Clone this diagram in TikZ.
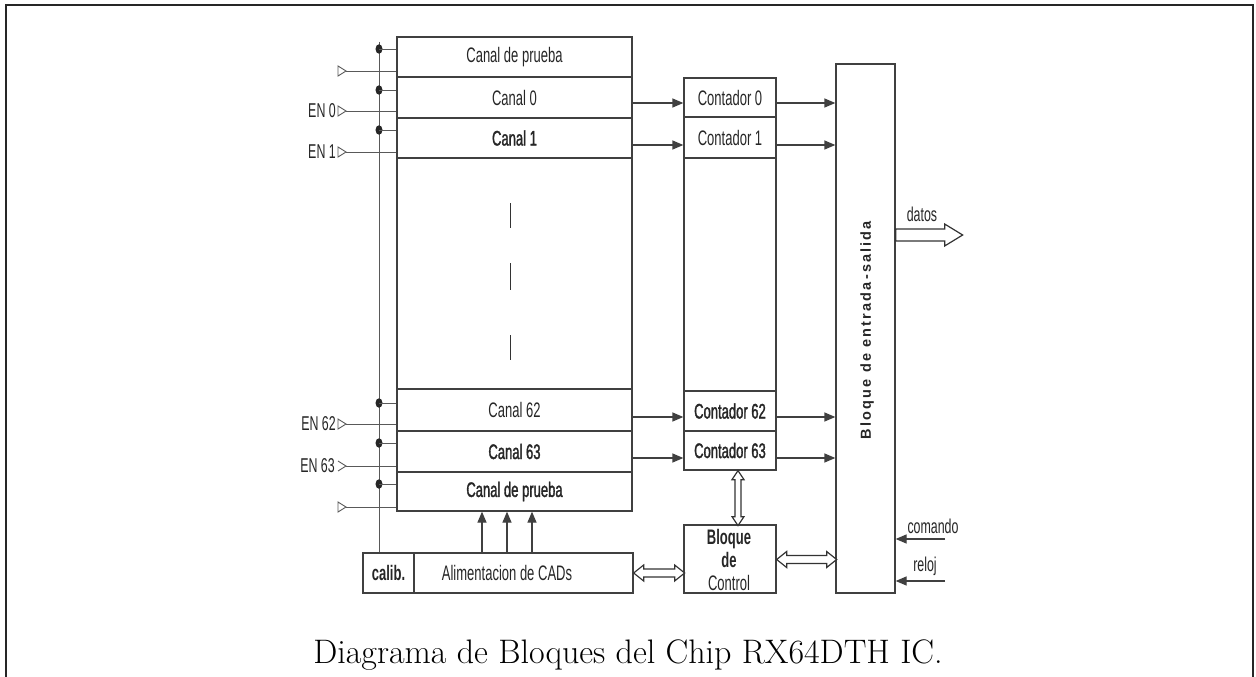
\documentclass[tikz,border=0pt]{standalone}
\usepackage{fontspec}
\newfontfamily\cond[FakeStretch=0.62]{Liberation Sans}
\newfontfamily\condb[FakeStretch=0.62,FakeBold=1.5]{Liberation Sans}
\newfontfamily\iofont[LetterSpace=15]{Liberation Sans}
\usetikzlibrary{arrows.meta,calc,shapes.geometric}
\begin{document}
\begin{tikzpicture}[x=1pt,y=-1pt,
  box/.style={draw=black!75, line width=1.3pt, rectangle, inner sep=0pt,
    font=\cond\fontsize{21}{22}\selectfont, text=black!85},
  lbl/.style={inner sep=0pt, font=\cond\fontsize{20}{21}\selectfont, text=black!85},
  ln/.style={draw=black!75, line width=1.3pt},
  thin/.style={draw=black!65, line width=0.9pt},
  arr/.style={ln, -{Triangle[length=11pt,width=9pt]}},
  dot/.style={ellipse, fill=black!85, inner sep=0pt, minimum width=7pt, minimum height=9.5pt},
  hollow/.style={draw=black!80, line width=1.2pt, fill=white, line join=miter},
  bar/.style={draw=black!80, line width=1.8pt}]
\useasboundingbox (0,0) rectangle (1256,677);
% outer frame
\draw[line width=1.5pt, black!85] (6,680) -- (6,5) -- (1253,5) -- (1253,680);

% left column of channels
\node[box, minimum width=235pt, minimum height=40pt] (p1) at (514.5,57) {Canal de prueba};
\node[box, minimum width=235pt, minimum height=41pt] (c0) at (514.5,97.5) {Canal 0};
\node[box, minimum width=235pt, minimum height=40pt] (c1) at (514.5,138) {\condb Canal 1};
\node[box, minimum width=235pt, minimum height=231pt] (mid) at (514.5,273.5) {};
\node[box, minimum width=235pt, minimum height=42pt] (c62) at (514.5,410) {Canal 62};
\node[box, minimum width=235pt, minimum height=41pt] (c63) at (514.5,451.5) {\condb Canal 63};
\node[box, minimum width=235pt, minimum height=39pt] (p2) at (514.5,491.5) {\condb Canal de prueba};
% dashes in the middle
\draw[bar] ([shift={(-4,-70.5)}]mid.center) -- ([shift={(-4,-45.5)}]mid.center);
\draw[bar] ([shift={(-4,-10.5)}]mid.center) -- ([shift={(-4,16.5)}]mid.center);
\draw[bar] ([shift={(-4,61.5)}]mid.center) -- ([shift={(-4,86.5)}]mid.center);

% counters
\node[box, minimum width=92pt, minimum height=39pt] (k0) at (730,97.5) {Contador 0};
\node[box, minimum width=92pt, minimum height=41pt] (k1) at (730,137.5) {Contador 1};
\node[box, minimum width=92pt, minimum height=233pt] (kmid) at (730,274.5) {};
\node[box, minimum width=92pt, minimum height=40pt] (k62) at (730,411) {\condb Contador 62};
\node[box, minimum width=92pt, minimum height=39pt] (k63) at (730,450.5) {\condb Contador 63};

% control block
\node[box, minimum width=92pt, minimum height=68pt] (ctrl) at (730,559) {};
\node[inner sep=0pt, align=center, text=black!85,
  font=\cond\fontsize{21}{23}\selectfont] (ctrltxt) at (729,560) {\bfseries Bloque\\\bfseries de\\Control};

% I/O block
\node[box, minimum width=59pt, minimum height=529pt] (io) at (865.5,328.5) {};
\node[rotate=90, inner sep=0pt, text=black!85,
  font=\iofont\bfseries\fontsize{14.5}{16}\selectfont] (iotxt) at (867,330) {Bloque de entrada-salida};

% calibration / ADC supply
\node[box, minimum width=51pt, minimum height=40pt] (calib) at (388.5,573) {\bfseries calib.};
\node[box, minimum width=219pt, minimum height=40pt] (alim) at (523.5,573) {};
\node[lbl, font=\cond\fontsize{21}{22}\selectfont] (alimtxt) at (507,573) {Alimentacion de CADs};

% arrows channel -> counter
\draw[arr] ([yshift=-5.5pt]c0.east) -- ([yshift=-5.5pt]c0.east -| k0.west);
\draw[arr] ([yshift=-7pt]c1.east) -- ([yshift=-7pt]c1.east -| k1.west);
\draw[arr] ([yshift=-7pt]c62.east) -- ([yshift=-7pt]c62.east -| k62.west);
\draw[arr] ([yshift=-6.5pt]c63.east) -- ([yshift=-6.5pt]c63.east -| k63.west);
% arrows counter -> I/O
\draw[arr] ([yshift=-5.5pt]k0.east) -- ([yshift=-5.5pt]k0.east -| io.west);
\draw[arr] ([yshift=-7.5pt]k1.east) -- ([yshift=-7.5pt]k1.east -| io.west);
\draw[arr] ([yshift=-6pt]k62.east) -- ([yshift=-6pt]k62.east -| io.west);
\draw[arr] ([yshift=-7.5pt]k63.east) -- ([yshift=-7.5pt]k63.east -| io.west);

% arrows supply -> bottom test channel
\draw[arr] ([xshift=-41.5pt]alim.north) -- ([xshift=-41.5pt]alim.north |- p2.south);
\draw[arr] ([xshift=-16.5pt]alim.north) -- ([xshift=-16.5pt]alim.north |- p2.south);
\draw[arr] ([xshift=8.5pt]alim.north) -- ([xshift=8.5pt]alim.north |- p2.south);

% hollow double arrows
\draw[hollow] (alim.east) -- ++(10,8) -- ++(0,-4) -- ++(31,0) -- ++(0,4) -- ++(10,-8)
  -- ++(-10,-8) -- ++(0,4) -- ++(-31,0) -- ++(0,-4) -- cycle;
\draw[hollow] ([yshift=-0.5pt]ctrl.east) -- ++(10,8) -- ++(0,-4) -- ++(40,0) -- ++(0,4) -- ++(10,-8)
  -- ++(-10,-8) -- ++(0,4) -- ++(-40,0) -- ++(0,-4) -- cycle;
\draw[hollow] ([xshift=8pt]k63.south) -- ++(-6,9) -- ++(3,0) -- ++(0,37) -- ++(-3,0) -- ++(6,9)
  -- ++(6,-9) -- ++(-3,0) -- ++(0,-37) -- ++(3,0) -- cycle;
% datos output arrow
\draw[hollow] ([yshift=93.5pt]io.east) -- ++(0,-6) -- ++(49,0) -- ++(0,-5) -- ++(18,11)
  -- ++(-18,11) -- ++(0,-5) -- ++(-49,0) -- cycle;
\node[lbl] (datos) at (922,214) {datos};

% comando / reloj
\coordinate (cmd) at (945,539);
\coordinate (clk) at (945,581);
\draw[arr] (cmd) -- (cmd -| io.east);
\draw[arr] (clk) -- (clk -| io.east);
\node[lbl] (cmdtxt) at (933,526) {comando};
\node[lbl] (clktxt) at (925,566) {reloj};

% left bus line and dots
\coordinate (vtop) at (379,42);
\draw[thin] (vtop) -- (vtop |- calib.north);
\foreach \r/\y in {p1/49, c0/90, c1/130, c62/403, c63/443, p2/484}{
  \node[dot] (d\r) at (379,\y) {};
  \draw[thin] (d\r.center) -- (d\r.center -| \r.west);
}

% enable inputs
\foreach \r/\y/\t in {p1/71/, c0/111/EN 0, c1/152/EN 1, c62/424/EN 62, p2/507/}{
  \coordinate (e\r) at (346,\y);
  \draw[thin] (e\r) -- ++(-8,-5) -- ++(0,10) -- cycle;
  \draw[thin] (e\r) -- (e\r -| \r.west);
  \node[lbl, anchor=east] (t\r) at (336,\y) {\t};
}
\coordinate (ec63) at (346,466);
\draw[thin] ([shift={(-8,-5)}]ec63) -- (ec63) -- ([shift={(-8,5)}]ec63);
\draw[thin] (ec63) -- (ec63 -| c63.west);
\node[lbl, anchor=east] (tc63) at (335,466) {EN 63};

% caption
\node[inner sep=0pt, font=\fontsize{34}{40}\selectfont] (cap) at (628,655) {Diagrama de Bloques del Chip RX64DTH IC.};
\end{tikzpicture}
\end{document}
